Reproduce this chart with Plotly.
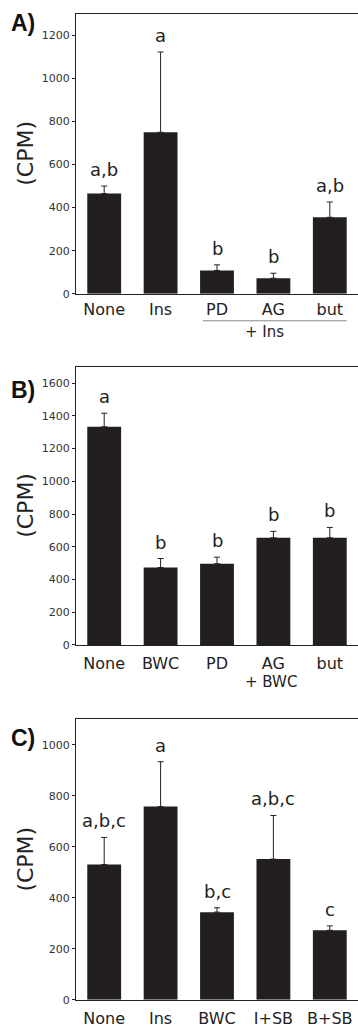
import plotly.graph_objects as go

# ---------------- data ----------------
cats_a = ["None", "Ins", "PD", "AG", "but"]
vals_a = [465, 750, 108, 72, 355]
err_a = [35, 373, 26, 23, 71]
sig_a = ["a,b", "a", "b", "b", "a,b"]

cats_b = ["None", "BWC", "PD", "AG", "but"]
vals_b = [1333, 473, 496, 655, 655]
err_b = [83, 55, 40, 39, 63]
sig_b = ["a", "b", "b", "b", "b"]

cats_c = ["None", "Ins", "BWC", "I+SB", "B+SB"]
vals_c = [531, 758, 344, 552, 273]
err_c = [106, 176, 17, 171, 17]
sig_c = ["a,b,c", "a", "b,c", "a,b,c", "c"]

ticks_a = [0, 200, 400, 600, 800, 1000, 1200]
ticks_b = [0, 200, 400, 600, 800, 1000, 1200, 1400, 1600]
ticks_c = [0, 200, 400, 600, 800, 1000]

W, H = 358, 1028
FONT = "DejaVu Sans, Liberation Sans, Arial, sans-serif"
FONT_B = "Liberation Sans, Arial, sans-serif"
BAR = "#231f20"

def py(px):
    return 1 - px / H

panels = [
    # cats, vals, err, sig, ticks, yrange, top px, bottom px, label, label y, standoff
    (cats_a, vals_a, err_a, sig_a, ticks_a, 1300, 14, 295.7, "A)", 23, 1),
    (cats_b, vals_b, err_b, sig_b, ticks_b, 1700, 369.3, 649.3, "B)", 393, 4),
    (cats_c, vals_c, err_c, sig_c, ticks_c, 1100, 724.3, 1006.7, "C)", 743, 4),
]

fig = go.Figure()
annotations = []
shapes = []
layout = {}

for i, (cats, vals, err, sig, ticks, ymax, top, bot, lab, laby, so) in enumerate(panels):
    n = "" if i == 0 else str(i + 1)
    xa, ya = "x" + n, "y" + n
    fig.add_trace(go.Bar(
        x=list(range(len(cats))), y=vals, xaxis=xa, yaxis=ya,
        marker=dict(color=BAR, line=dict(width=0)), width=0.6,
        error_y=dict(type="data", array=err, arrayminus=[0] * len(err),
                     symmetric=False, color="#222", thickness=1, width=3),
        showlegend=False,
    ))
    layout["xaxis" + n] = dict(
        domain=[76 / W, 1.0], anchor=ya, range=[-0.5, 4.5],
        tickmode="array", tickvals=list(range(len(cats))), ticktext=cats,
        ticks="", showline=True, mirror=True, linecolor="#222", linewidth=1,
        showgrid=False, zeroline=False, ticklabelstandoff=so,
        tickfont=dict(family=FONT, size=16, color="#222"),
    )
    layout["yaxis" + n] = dict(
        domain=[py(bot), py(top)], anchor=xa, range=[0, ymax],
        tickmode="array", tickvals=ticks, ticks="outside", ticklen=3,
        tickcolor="#222", showline=True, mirror=False, linecolor="#222",
        linewidth=1, showgrid=False, zeroline=False,
        tickfont=dict(family=FONT, size=11, color="#333"),
    )
    # significance letters
    for k in range(len(cats)):
        annotations.append(dict(
            x=k, y=vals[k] + err[k], xref=xa, yref=ya, text=sig[k],
            showarrow=False, yanchor="bottom", yshift=4,
            font=dict(family=FONT, size=18, color="#222"),
        ))
    # panel label
    annotations.append(dict(
        x=9 / W, y=py(laby), xref="paper", yref="paper", text="<b>" + lab + "</b>",
        showarrow=False, xanchor="left", yanchor="middle",
        font=dict(family=FONT_B, size=23, color="#111"),
    ))
    # y title
    annotations.append(dict(
        x=26 / W, y=py((top + bot) / 2), xref="paper", yref="paper", text="(CPM)",
        showarrow=False, textangle=-90, xanchor="center", yanchor="middle",
        font=dict(family=FONT, size=22, color="#222"),
    ))

# "+ Ins" group under panel A
shapes.append(dict(type="line", xref="x", yref="paper", x0=1.75, x1=4.3,
                   y0=py(323), y1=py(323), line=dict(color="#888", width=1)))
annotations.append(dict(x=2.85, y=py(334), xref="x", yref="paper", text="+ Ins",
                        showarrow=False, yanchor="middle",
                        font=dict(family=FONT, size=15, color="#222")))
# "+ BWC" under panel B
annotations.append(dict(x=2.95, y=py(687), xref="x2", yref="paper", text="+ BWC",
                        showarrow=False, yanchor="middle",
                        font=dict(family=FONT, size=15, color="#222")))

fig.update_layout(
    width=W, height=H, margin=dict(l=0, r=0, t=0, b=0),
    paper_bgcolor="white", plot_bgcolor="white",
    annotations=annotations, shapes=shapes, bargap=0.4,
    **layout,
)

fig.write_html(
    "out.html",
    config={"displayModeBar": False},
    post_script="document.body.style.margin='0';document.body.style.overflow='hidden';",
)
